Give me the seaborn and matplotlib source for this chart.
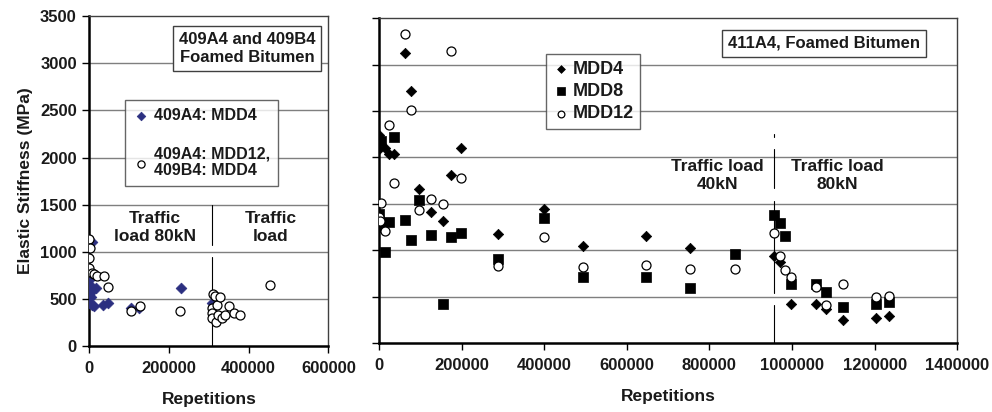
import matplotlib
matplotlib.use("Agg")
import matplotlib.pyplot as plt
import seaborn as sns
import pandas as pd

# ---- left panel: 409A4 / 409B4 ----
a4_mdd4_x = [7000, 0, 0, 2000, 4000, 18000, 0, 5000, 0, 8000, 13000, 35000, 47000,
             104000, 126000, 229000, 307000]
a4_mdd4_y = [1100, 1041, 699, 653, 575, 612, 540, 522, 452, 434, 420, 440, 460,
             405, 405, 611, 452]

mix_x = [0, 2000, 0, 0, 6000, 12000, 20000, 36000, 47000, 104000, 127000, 228000,
         307000, 307000, 307000, 310000, 316000, 318000, 320000, 324000, 328000,
         332000, 340000, 351000, 364000, 378000, 454000]
mix_y = [1133, 1040, 929, 829, 780, 760, 740, 741, 625, 371, 425, 374,
         400, 346, 293, 555, 531, 259, 437, 328, 525,
         297, 332, 430, 350, 331, 652]

# ---- right panel: 411A4 ----
mdd4_x = [0, 3000, 0, 15000, 25000, 37000, 64000, 78000, 98000, 126000, 155000,
          175000, 199000, 288000, 400000, 493000, 646000, 753000, 957000, 970000,
          997000, 1057000, 1083000, 1123000, 1203000, 1234000]
mdd4_y = [2240, 2200, 2095, 2099, 2034, 2034, 3120, 2720, 1663, 1411, 1321,
          1807, 2102, 1177, 1447, 1044, 1159, 1030, 943, 875,
          425, 425, 370, 252, 270, 295]

mdd8_x = [5000, 36000, 0, 1600, 15000, 24000, 64000, 78000, 98000, 126000, 175000,
          199000, 155000, 288000, 400000, 493000, 646000, 753000, 863000, 957000,
          970000, 983000, 997000, 1057000, 1083000, 1123000, 1203000, 1234000]
mdd8_y = [2178, 2221, 1386, 1249, 986, 1310, 1328, 1116, 1537, 1170, 1145,
          1188, 421, 907, 1350, 716, 716, 594, 965, 1382,
          1289, 1156, 637, 641, 547, 392, 425, 439]

mdd12_x = [64000, 175000, 78000, 25000, 37000, 5600, 0, 2400, 15000, 98000, 126000,
           155000, 199000, 288000, 400000, 493000, 646000, 753000, 863000, 957000,
           970000, 983000, 997000, 1057000, 1083000, 1123000, 1203000, 1234000]
mdd12_y = [3334, 3150, 2516, 2344, 1728, 1512, 1361, 1321, 1210, 1429, 1548,
           1494, 1775, 835, 1141, 817, 842, 799, 799, 1188,
           943, 788, 716, 601, 414, 637, 493, 511]

yticks = [0, 500, 1000, 1500, 2000, 2500, 3000, 3500]

sns.set_style("white")
plt.rcParams['font.family'] = ['Liberation Sans', 'DejaVu Sans']
plt.rcParams['font.weight'] = 'bold'
plt.rcParams['text.color'] = '#1a1a1a'
plt.rcParams['axes.labelcolor'] = '#1a1a1a'

fig = plt.figure(figsize=(9.92, 4.12), dpi=100)
ax1 = fig.add_axes([0.090, 0.160, 0.241, 0.801])
ax2 = fig.add_axes([0.382, 0.167, 0.583, 0.789])

fs = 11
grid_c = '#7f7f7f'


def style_axis(ax, xmax, xstep, ylabels=True):
    ax.set_xlim(0, xmax)
    ax.set_ylim(0, 3500)
    xt = list(range(0, xmax + 1, xstep))
    ax.set_xticks(xt, labels=[str(v) for v in xt], fontsize=fs + 1, fontweight='bold')
    ax.set_yticks(yticks, labels=[str(v) for v in yticks] if ylabels else [],
                  fontsize=fs + 1, fontweight='bold')
    for y in yticks[1:-1]:
        ax.axhline(y, color=grid_c, lw=1.0, zorder=0)
    for s in ['left', 'bottom']:
        ax.spines[s].set_color('black')
        ax.spines[s].set_linewidth(1.8)
    for s in ['top', 'right']:
        ax.spines[s].set_color('#404040')
        ax.spines[s].set_linewidth(1.0)
    ax.tick_params(axis='both', direction='out', length=5, width=1,
                   colors='black', bottom=True, left=True)
    ax.tick_params(axis='x', pad=6, labelcolor='#1a1a1a')
    ax.tick_params(axis='y', pad=4, labelcolor='#1a1a1a')
    ax.set_xlabel('Repetitions', fontsize=fs + 1.5, fontweight='bold', labelpad=11)


# left panel
df_a = pd.DataFrame({'x': a4_mdd4_x, 'y': a4_mdd4_y})
df_m = pd.DataFrame({'x': mix_x, 'y': mix_y})
sns.scatterplot(data=df_a, x='x', y='y', ax=ax1, marker='D', s=30,
                color='#2b2f80', edgecolor='#2b2f80', linewidth=0.5,
                label='409A4: MDD4', zorder=3)
sns.scatterplot(data=df_m, x='x', y='y', ax=ax1, marker='o', s=42,
                facecolor='white', edgecolor='black', linewidth=0.9,
                label='409A4: MDD12,\n409B4: MDD4', zorder=4)
style_axis(ax1, 600000, 200000)
ax1.set_ylabel('Elastic Stiffness (MPa)', fontsize=fs + 1.5, fontweight='bold',
               labelpad=5)
ax1.plot([307000, 307000], [0, 940], color='black', lw=0.8, zorder=2)
ax1.plot([307000, 307000], [1070, 1500], color='black', lw=0.8, zorder=2)
ax1.text(165000, 1260, 'Traffic\nload 80kN', ha='center', va='center',
         fontsize=fs + 1.5, fontweight='bold', linespacing=1.25)
ax1.text(455000, 1260, 'Traffic\nload', ha='center', va='center',
         fontsize=fs + 1.5, fontweight='bold', linespacing=1.25)
ax1.text(0.661, 0.902, '409A4 and 409B4\nFoamed Bitumen', transform=ax1.transAxes,
         ha='center', va='center', fontsize=fs + 1, fontweight='bold',
         linespacing=1.3,
         bbox=dict(boxstyle='square,pad=0.35', fc='white', ec='#404040', lw=1))
leg1 = ax1.legend(loc='upper left', bbox_to_anchor=(0.151, 0.746), frameon=True,
                  fancybox=False, edgecolor='#404040', fontsize=fs + 0.5,
                  handletextpad=0.3, handlelength=1.0, labelspacing=1.45,
                  borderpad=0.5, borderaxespad=0, markerscale=0.8)
leg1.get_frame().set_linewidth(1)
for t in leg1.get_texts():
    t.set_fontweight('bold')

# right panel
d4 = pd.DataFrame({'x': mdd4_x, 'y': mdd4_y})
d8 = pd.DataFrame({'x': mdd8_x, 'y': mdd8_y})
d12 = pd.DataFrame({'x': mdd12_x, 'y': mdd12_y})
sns.scatterplot(data=d4, x='x', y='y', ax=ax2, marker='D', s=28, color='black',
                edgecolor='black', linewidth=0.5, label='MDD4', zorder=3)
sns.scatterplot(data=d8, x='x', y='y', ax=ax2, marker='s', s=48, color='black',
                edgecolor='black', linewidth=0.5, label='MDD8', zorder=3)
sns.scatterplot(data=d12, x='x', y='y', ax=ax2, marker='o', s=42, facecolor='white',
                edgecolor='black', linewidth=0.9, label='MDD12', zorder=4)
style_axis(ax2, 1400000, 200000, ylabels=False)
ax2.set_ylabel('')
for seg in [(0, 415), (540, 1530), (1670, 2090), (2215, 2250)]:
    ax2.plot([957000, 957000], list(seg), color='black', lw=0.8, zorder=2)
ax2.text(820000, 1810, 'Traffic load\n40kN', ha='center', va='center',
         fontsize=fs + 1.5, fontweight='bold', linespacing=1.25)
ax2.text(1110000, 1810, 'Traffic load\n80kN', ha='center', va='center',
         fontsize=fs + 1.5, fontweight='bold', linespacing=1.25)
ax2.text(0.769, 0.922, '411A4, Foamed Bitumen', transform=ax2.transAxes,
         ha='center', va='center', fontsize=fs + 1, fontweight='bold',
         bbox=dict(boxstyle='square,pad=0.35', fc='white', ec='#404040', lw=1))
leg2 = ax2.legend(loc='upper left', bbox_to_anchor=(0.289, 0.889), frameon=True,
                  fancybox=False, edgecolor='#404040', fontsize=fs + 2,
                  handletextpad=0.2, handlelength=0.9, labelspacing=0.3,
                  borderpad=0.35, borderaxespad=0, markerscale=0.75)
leg2.get_frame().set_linewidth(1)
for t in leg2.get_texts():
    t.set_fontweight('bold')

fig.savefig('out.png', dpi=100)
